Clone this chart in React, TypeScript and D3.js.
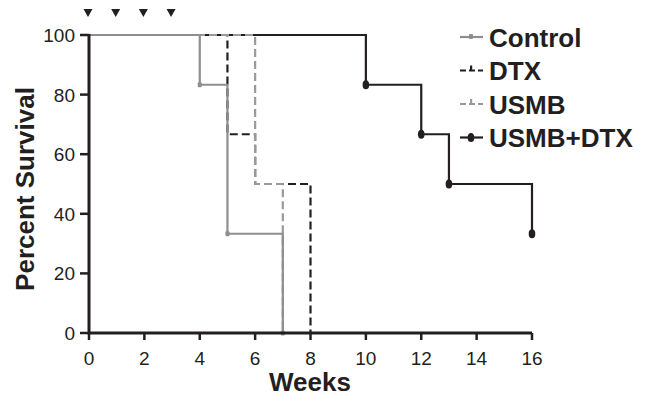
import React from "react";
import * as d3 from "d3";

const W = 649;
const H = 402;

const xTicks = [0, 2, 4, 6, 8, 10, 12, 14, 16];
const yTicks = [0, 20, 40, 60, 80, 100];
const treatmentWeeks = [0, 1, 2, 3];

const seriesNames = ["Control", "DTX", "USMB", "USMB+DTX"];
const controlTimes = [0, 4, 5, 7];
const controlSurv = [100, 83.3, 33.3, 0];
const dtxTimes = [0, 5, 6, 8];
const dtxSurv = [100, 66.7, 50, 0];
const usmbTimes = [0, 6, 7];
const usmbSurv = [100, 50, 0];
const comboTimes = [0, 10, 12, 13, 16];
const comboSurv = [100, 83.3, 66.7, 50, 33.3];

const BLACK = "#231f20";
const GRAY = "#8e8e8e";
const GRAY2 = "#9a9a9a";

export default function App() {
  const x = d3.scaleLinear().domain([0, 16]).range([89, 532]);
  const y = d3.scaleLinear().domain([0, 100]).range([333, 35]);
  const line = d3
    .line<[number, number]>()
    .x((d) => x(d[0]))
    .y((d) => y(d[1]))
    .curve(d3.curveStepAfter);
  const pts = (t: number[], s: number[]) => t.map((v, i) => [v, s[i]] as [number, number]);

  const series = [
    { name: "USMB+DTX", t: comboTimes, s: comboSurv, color: BLACK, dash: "", marker: "big" },
    { name: "DTX", t: dtxTimes, s: dtxSurv, color: BLACK, dash: "8,4", marker: "none" },
    { name: "USMB", t: usmbTimes, s: usmbSurv, color: GRAY2, dash: "8,4", marker: "none" },
    { name: "Control", t: controlTimes, s: controlSurv, color: GRAY, dash: "", marker: "small" },
  ];

  const legendStyle: Record<string, { color: string; dash: string; marker: string }> = {
    Control: { color: GRAY, dash: "", marker: "small" },
    DTX: { color: BLACK, dash: "6,3", marker: "tick" },
    USMB: { color: GRAY2, dash: "6,3", marker: "tick" },
    "USMB+DTX": { color: BLACK, dash: "", marker: "big" },
  };

  const font = "Liberation Sans, Arial, Helvetica, sans-serif";

  return (
    <div style={{ position: "fixed", left: 0, top: 0 }}>
      <svg width={W} height={H} style={{ display: "block", background: "#fff" }}>
        {/* treatment arrows */}
        {treatmentWeeks.map((w) => {
          const cx = x(w) - 1;
          return (
            <path key={w} d={`M${cx - 4.5},9 L${cx + 4.5},9 L${cx},17 Z`} fill={BLACK} />
          );
        })}

        {/* survival curves */}
        {series.map((sr) => (
          <path
            key={sr.name}
            d={line(pts(sr.t, sr.s)) || ""}
            fill="none"
            stroke={sr.color}
            strokeWidth={2.2}
            strokeDasharray={sr.dash}
          />
        ))}
        {series.map((sr) =>
          sr.t.slice(1).map((t, i) => {
            const v = sr.s[i + 1];
            if (sr.marker === "big")
              return <ellipse key={sr.name + t} cx={x(t)} cy={y(v)} rx={3.3} ry={4.6} fill={sr.color} />;
            if (sr.marker === "small")
              return <rect key={sr.name + t} x={x(t) - 2} y={y(v) - 2.5} width={4} height={5} rx={1} fill={sr.color} />;
            return null;
          })
        )}

        {/* axes */}
        <line x1={x(0)} x2={x(16)} y1={y(0)} y2={y(0)} stroke={BLACK} strokeWidth={3} />
        <line x1={x(0)} x2={x(0)} y1={y(0) + 1.5} y2={y(100) - 1} stroke={BLACK} strokeWidth={3} />
        {xTicks.map((t) => (
          <g key={t}>
            <line x1={x(t)} x2={x(t)} y1={y(0)} y2={y(0) + 7} stroke={BLACK} strokeWidth={2.5} />
            <text x={x(t)} y={365} textAnchor="middle" fontFamily={font} fontSize={19} fill={BLACK}>
              {t}
            </text>
          </g>
        ))}
        {yTicks.map((t) => (
          <g key={t}>
            <line x1={x(0) - 9} x2={x(0)} y1={y(t)} y2={y(t)} stroke={BLACK} strokeWidth={2.5} />
            <text x={75} y={y(t) + 7} textAnchor="end" fontFamily={font} fontSize={19} fill={BLACK}>
              {t}
            </text>
          </g>
        ))}

        {/* axis titles */}
        <text x={310} y={391} textAnchor="middle" fontFamily={font} fontWeight="bold" fontSize={26} fill={BLACK}>
          Weeks
        </text>
        <text
          transform="translate(34,189) rotate(-90)"
          textAnchor="middle"
          fontFamily={font}
          fontWeight="bold"
          fontSize={26}
          fill={BLACK}
        >
          Percent Survival
        </text>

        {/* legend */}
        {seriesNames.map((n, i) => {
          const st = legendStyle[n];
          const cy = 37 + i * 33.5;
          return (
            <g key={n}>
              <line x1={460} x2={483} y1={cy} y2={cy} stroke={st.color} strokeWidth={2.2} strokeDasharray={st.dash} />
              {st.marker === "big" && <ellipse cx={471} cy={cy} rx={3.3} ry={4.6} fill={st.color} />}
              {st.marker === "small" && <rect x={469} y={cy - 3} width={4} height={5} rx={1} fill={st.color} />}
              {st.marker === "tick" && <rect x={470} y={cy - 5} width={2.2} height={5} fill={st.color} />}
              <text x={489} y={cy + 9.5} fontFamily={font} fontWeight="bold" fontSize={26} fill={BLACK}>
                {n}
              </text>
            </g>
          );
        })}
      </svg>
    </div>
  );
}
